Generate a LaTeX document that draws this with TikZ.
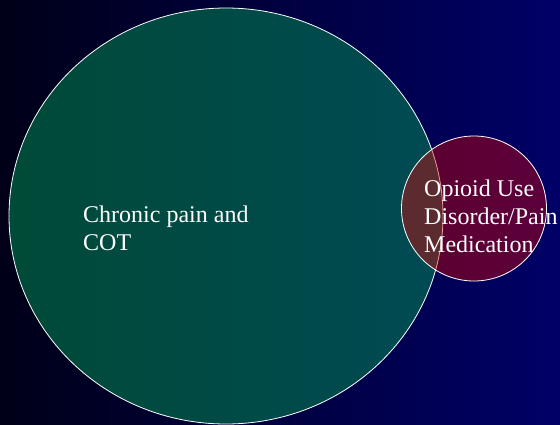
\documentclass[tikz,border=0pt]{standalone}
\usepackage{fontspec}
\setmainfont{Liberation Serif}
\definecolor{bgleft}{RGB}{0,0,24}
\definecolor{bgright}{RGB}{0,0,104}
\definecolor{gleft}{RGB}{0,74,56}
\definecolor{gright}{RGB}{0,74,84}
\definecolor{ovred}{RGB}{224,0,0}
\tikzset{
  lbl/.style={text=white, align=left, inner sep=0pt, anchor=base west,
    font=\fontsize{24}{28}\selectfont},
  ring/.style={draw=white, line width=0.8pt}
}
\begin{document}
\begin{tikzpicture}[x=1pt,y=-1pt]
\useasboundingbox (0,0) rectangle (560,424);
\shade[left color=bgleft, right color=bgright] (0,0) rectangle (560,424);
\shade[left color=gleft, right color=gright, ring] (226,216) ellipse [x radius=217, y radius=208];
\node[circle, minimum size=145pt, inner sep=0pt, fill=ovred, fill opacity=0.41, draw=white, draw opacity=1, line width=0.8pt] (oud) at (474,208.5) {};
\node[lbl] (cp) at (83,250) {Chronic pain and\\COT};
\node[lbl] (op) at (424,252) {Opioid Use\\Disorder/Pain\\Medication};
\end{tikzpicture}
\end{document}
